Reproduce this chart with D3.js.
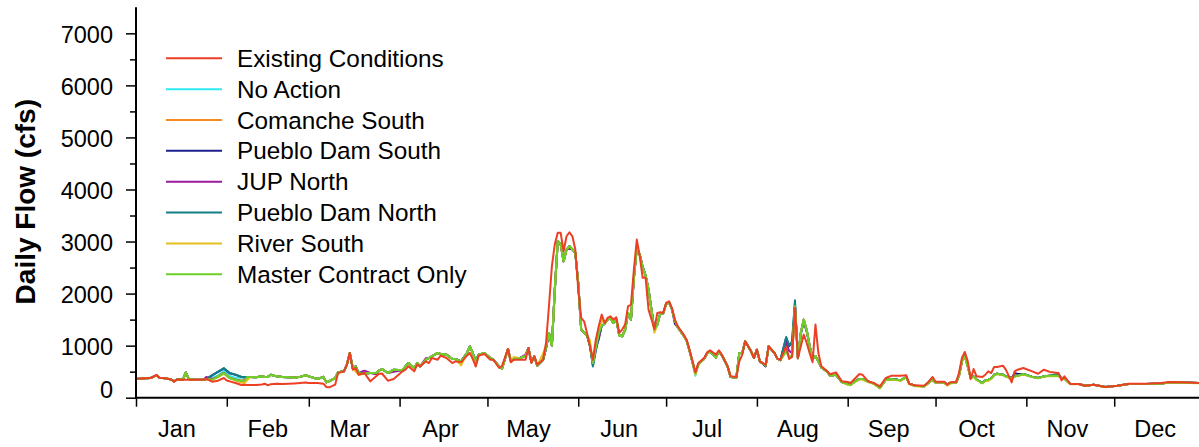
<!DOCTYPE html>
<html><head><meta charset="utf-8">
<script src="https://cdn.jsdelivr.net/npm/d3@7"></script>
<style>
body{margin:0;background:#fff}
svg{display:block}
text{font-family:"Liberation Sans",Arial,sans-serif;fill:#000}
</style>
</head><body>
<svg id="c" width="1199" height="447"></svg>
<script>
// ---- DATA ----
const days = [
 0,3,5,7,8,10,12,13,14,16,17,18,20,23,24,26,28,30,31,
 32,34,36,37,38,39,41,43,44,45,46,48,50,52,54,56,58,
 59,62,64,65,66,68,69,71,72,73,74,75,76,78,80,82,83,84,86,88,
 91,92,93,95,96,97,99,100,101,103,104,106,108,109,111,113,114,115,116,117,119,
 121,122,124,125,127,128,129,131,133,134,135,136,137,139,140,141,142,143,144,145,146,147,148,149,150,
 151,152,153,154,155,156,157,158,159,160,161,162,163,164,165,166,167,168,169,170,171,172,173,174,175,177,178,179,180,
 181,182,183,184,185,187,188,189,191,192,194,195,196,198,199,200,202,203,205,206,207,208,210,211,
 212,213,215,216,218,219,220,222,223,224,225,226,227,228,229,230,231,232,233,234,236,237,239,241,
 243,244,246,247,248,250,252,254,256,258,261,263,264,266,269,270,272,
 273,274,276,277,278,280,281,282,283,284,285,286,287,289,290,291,292,293,294,296,297,299,300,301,303,
 306,308,310,312,315,316,317,319,322,324,327,331,335,339,345,350,353,357,364
];

const existingConditions = [
 360,372,378,436,385,372,350,308,350,346,346,346,346,346,360,308,327,378,330,
 314,282,244,250,244,244,244,255,269,237,260,269,265,269,275,282,290,
 282,282,269,205,199,250,474,506,635,859,538,570,442,474,314,410,462,465,327,360,
 506,538,602,506,635,602,698,666,763,730,808,763,666,698,680,808,859,743,602,808,840,
 730,730,570,615,936,680,730,730,730,955,666,795,634,730,1051,1756,2525,2950,3167,3167,2814,3102,3179,3100,2846,
 2077,1532,1468,1244,987,730,1115,1372,1596,1436,1532,1564,1500,1545,1244,1308,1404,1756,1788,2462,3038,2718,2302,2302,1692,1320,1628,1640,1628,
 1821,1853,1720,1500,1372,1212,1115,923,487,666,763,871,910,827,910,827,602,410,397,698,827,1083,891,763,
 923,698,634,987,859,750,730,987,743,782,1724,763,987,1212,1051,859,680,1404,859,602,506,450,487,314,
 302,282,397,455,442,314,282,218,378,423,423,430,269,237,230,269,397,
 308,308,308,250,295,302,474,763,878,698,360,551,410,397,442,506,474,589,589,615,538,295,506,538,570,
 506,461,538,495,474,333,410,263,263,231,250,205,231,269,269,282,301,295,282
];

const noAction = [
 360,372,378,430,385,372,350,315,350,346,487,360,346,346,360,380,430,510,470,
 420,380,390,385,398,400,395,410,400,400,442,410,400,395,385,400,430,
 410,360,400,295,320,378,487,506,635,859,570,602,474,462,474,474,520,550,474,538,
 525,600,666,570,666,602,730,760,794,859,840,827,743,743,698,859,987,859,698,827,859,
 763,730,600,560,936,700,740,760,800,955,680,795,615,730,950,1244,1000,2077,3006,2950,2620,2846,2910,2850,2780,
 2200,1310,1250,1200,1000,666,1000,1250,1380,1420,1500,1520,1436,1500,1200,1180,1300,1628,1500,2300,2880,2750,2494,2350,2077,1308,1400,1620,1620,
 1800,1830,1700,1480,1350,1190,1100,900,420,640,750,850,890,770,890,820,600,400,390,859,860,1083,891,763,
 923,698,620,987,859,750,720,900,780,800,1750,760,1250,1500,1300,1000,750,800,700,580,500,423,440,300,
 260,250,330,360,360,310,270,186,346,360,334,397,269,230,218,260,346,
 290,300,290,250,282,290,420,700,800,602,380,410,350,282,330,346,370,440,460,442,410,378,410,423,455,
 400,378,410,420,423,378,370,263,263,231,250,205,231,265,265,275,290,290,280
];

const comancheSouth = [
 360,372,378,430,385,372,350,315,350,346,487,360,346,346,360,350,410,480,430,
 385,350,330,340,398,400,395,410,400,400,442,410,400,395,385,400,430,
 410,360,400,295,320,378,487,506,635,859,570,602,474,462,474,474,520,550,474,538,
 525,600,666,570,666,602,730,760,794,859,840,827,743,743,698,859,987,859,698,827,859,
 763,730,600,560,936,700,740,760,800,955,680,795,615,730,950,1244,1000,2077,3006,2950,2620,2846,2910,2850,2780,
 2200,1310,1250,1200,1000,666,987,1250,1380,1420,1500,1520,1436,1500,1200,1180,1300,1628,1500,2300,2880,2750,2494,2350,2077,1308,1400,1620,1620,
 1800,1830,1700,1480,1350,1190,1100,900,470,640,750,850,890,770,890,820,600,400,390,859,860,1083,891,763,
 923,698,620,987,859,750,720,900,780,800,1750,760,1250,1500,1300,1000,750,800,700,580,500,423,440,300,
 260,250,330,360,360,310,270,186,346,360,334,397,269,230,218,260,346,
 290,300,290,250,282,290,420,700,800,602,380,410,350,282,330,346,370,440,460,442,410,378,410,423,455,
 400,378,410,420,423,378,370,263,263,231,250,205,231,265,265,275,290,290,280
];

const puebloDamSouth = [
 360,372,378,430,385,372,350,315,350,346,487,360,346,346,360,430,495,560,515,
 470,440,400,395,398,400,395,410,400,400,442,410,400,395,385,400,430,
 410,360,400,295,320,378,487,506,635,859,570,602,474,462,474,474,520,550,474,538,
 525,600,666,570,666,602,730,760,794,859,840,827,743,743,698,859,987,859,698,827,859,
 763,730,600,560,936,700,740,760,800,955,680,795,615,730,950,1244,1000,2077,3006,2950,2620,2846,2910,2850,2780,
 2200,1310,1250,1200,1000,620,920,1150,1380,1420,1500,1520,1436,1500,1200,1180,1300,1628,1500,2300,2880,2750,2510,2350,2077,1308,1400,1620,1620,
 1800,1830,1700,1420,1350,1190,1100,900,470,640,750,850,890,770,890,820,600,400,390,859,860,1083,891,763,
 923,698,600,987,859,750,720,1150,990,1050,1800,760,1220,1460,1270,1000,750,800,700,580,500,423,440,300,
 260,250,330,360,360,310,270,186,346,360,334,397,269,230,218,260,346,
 290,300,290,250,282,290,420,700,800,602,380,410,350,282,330,346,370,440,460,442,410,378,470,460,455,
 400,378,410,420,423,378,370,263,263,231,250,205,231,265,265,275,290,290,280
];

const jupNorth = [
 360,372,378,430,385,372,350,315,350,346,487,360,346,346,398,360,400,474,420,
 378,346,320,330,398,400,395,410,400,400,442,410,400,395,385,400,430,
 410,360,400,295,320,378,487,506,635,859,570,560,474,520,474,450,520,550,474,500,
 525,600,666,570,666,602,760,760,794,859,840,827,743,743,698,859,987,859,698,827,859,
 763,730,600,560,936,700,740,760,830,955,680,795,615,730,950,1244,1000,2077,3006,2950,2620,2846,2860,2850,2780,
 2200,1310,1250,1200,1000,666,987,1115,1380,1420,1500,1520,1436,1500,1200,1180,1300,1628,1500,2300,2880,2750,2500,2350,2077,1308,1400,1620,1620,
 1800,1830,1700,1480,1350,1190,1100,900,470,640,750,850,890,770,890,820,600,400,390,859,860,1083,891,763,
 923,698,620,987,859,750,720,1051,900,860,1750,760,1250,1500,1300,1000,750,800,700,580,500,423,440,300,
 260,250,330,360,360,310,270,186,346,360,334,397,269,230,218,260,346,
 290,300,290,250,282,290,420,700,800,602,380,410,350,282,330,346,370,440,460,442,410,378,410,423,455,
 400,378,410,420,423,378,370,263,263,231,250,205,231,265,265,275,290,290,280
];

const puebloDamNorth = [
 360,372,378,430,385,372,350,315,350,346,487,360,346,346,360,436,500,570,520,
 474,442,400,398,398,400,395,410,400,400,442,410,400,395,385,400,430,
 410,360,400,295,320,378,487,506,635,859,570,602,474,462,474,474,520,550,474,538,
 525,600,666,570,666,602,730,760,794,859,840,827,743,743,698,859,987,859,698,827,859,
 763,730,600,560,936,700,740,760,800,955,680,795,615,730,950,1244,1000,2077,3006,2950,2620,2846,2910,2850,2780,
 2200,1310,1250,1200,1000,600,900,1180,1380,1420,1500,1520,1436,1500,1200,1180,1300,1628,1500,2300,2880,2750,2520,2350,2077,1308,1400,1620,1620,
 1800,1830,1700,1480,1350,1190,1100,900,470,640,750,850,890,770,890,820,600,400,390,859,860,1083,891,763,
 923,698,620,987,859,750,720,1167,1000,1083,1872,760,1250,1500,1300,1000,750,800,700,580,500,423,440,300,
 260,250,330,360,360,310,270,186,346,360,334,397,269,230,218,260,346,
 290,300,290,250,282,290,420,700,800,602,380,410,350,282,330,346,370,440,460,442,410,378,410,423,455,
 400,378,410,420,460,378,370,263,263,231,250,205,231,265,265,275,290,290,280
];

const riverSouth = [
 360,372,378,430,385,372,350,315,350,346,487,360,346,346,360,340,400,460,420,
 378,330,290,282,340,400,395,410,400,400,442,410,400,395,385,400,430,
 410,360,400,295,320,378,487,506,635,859,570,500,440,462,474,474,520,550,474,538,
 525,600,666,570,666,602,730,760,794,859,840,827,743,743,620,859,987,859,602,827,859,
 763,730,600,560,936,700,780,760,800,955,680,795,615,850,1000,1244,1000,2077,3006,2950,2620,2846,2910,2850,2780,
 2200,1310,1250,1200,1100,666,987,1250,1500,1420,1500,1520,1436,1500,1200,1180,1300,1628,1500,2300,2880,2750,2494,2350,2077,1250,1400,1620,1620,
 1800,1830,1700,1480,1350,1190,1100,900,440,640,750,850,890,770,890,820,600,400,390,859,860,1083,891,763,
 923,698,620,987,859,750,720,900,780,800,1750,760,1250,1500,1300,1000,750,800,700,580,500,423,440,300,
 250,240,320,350,350,300,260,180,340,350,325,390,262,222,210,252,340,
 285,295,285,230,275,285,410,690,790,590,370,400,340,275,322,320,360,430,450,435,400,370,400,415,445,
 395,372,405,412,418,375,365,260,260,228,247,202,228,262,262,272,287,287,277
];

const masterContractOnly = [
 360,372,378,430,385,372,350,315,350,346,487,360,346,346,360,346,400,474,420,
 378,346,320,330,398,400,395,410,400,400,442,410,400,395,385,400,430,
 410,360,400,295,320,378,487,506,635,859,570,602,474,462,474,474,520,550,474,538,
 525,600,666,570,666,602,730,760,794,859,840,827,743,743,698,859,987,859,698,827,859,
 763,730,600,560,936,700,740,760,800,955,680,795,615,730,950,1244,1000,2077,3006,2950,2620,2846,2910,2850,2780,
 2200,1310,1250,1200,1000,666,987,1250,1380,1420,1500,1520,1436,1500,1200,1180,1300,1628,1500,2300,2880,2750,2494,2350,2077,1308,1400,1620,1620,
 1800,1830,1700,1480,1350,1190,1100,900,470,640,750,850,890,770,890,820,600,400,390,859,860,1083,891,763,
 923,698,620,987,859,750,720,900,780,800,1750,760,1250,1500,1300,1000,750,800,700,580,500,423,440,300,
 260,250,330,360,360,310,270,186,346,360,334,397,269,230,218,260,346,
 290,300,290,250,282,290,420,700,800,602,380,410,350,282,330,346,370,440,460,442,410,378,410,423,455,
 400,378,410,420,423,378,370,263,263,231,250,205,231,265,265,275,290,290,280
];

const seriesNames = ["Existing Conditions","No Action","Comanche South","Pueblo Dam South","JUP North","Pueblo Dam North","River South","Master Contract Only"];
const seriesColors = ["#ec3f23","#2ee9f3","#f58a1f","#1c1f8c","#9b1aa0","#147f86","#e5c01c","#6ccf2a"];
const seriesValues = [existingConditions,noAction,comancheSouth,puebloDamSouth,jupNorth,puebloDamNorth,riverSouth,masterContractOnly];

const monthLabels = ["Jan","Feb","Mar","Apr","May","Jun","Jul","Aug","Sep","Oct","Nov","Dec"];
const monthStarts = [0,31,59,90,120,151,181,212,243,273,304,334];
const yMajorTicks = [0,1000,2000,3000,4000,5000,6000,7000];
const yMinorTicks = [500,1500,2500,3500,4500,5500,6500];
const yAxisTitle = "Daily Flow (cfs)";

seriesValues.forEach((s,i)=>{ if (s.length!==days.length) throw new Error(seriesNames[i]+" length "+s.length+" vs "+days.length); });

// ---- CHART ----
const svg = d3.select("#c");
const x = d3.scaleLinear().domain([0,365]).range([136,1205]);
const y = d3.scaleLinear().domain([0,7500]).range([397.7,7.3]);

const line = d3.line().x(d=>x(d[0])).y(d=>y(d[1]));
const drawOrder = [1,2,3,4,5,6,7,0];
const plot = svg.append("g");
drawOrder.forEach(i=>{
  plot.append("path")
    .datum(days.map((d,j)=>[d, seriesValues[i][j]]))
    .attr("fill","none").attr("stroke",seriesColors[i])
    .attr("stroke-width",2).attr("stroke-linejoin","round")
    .attr("d",line);
});

// Y axis
const yAx = svg.append("g").attr("transform","translate(136,0)")
  .call(d3.axisLeft(y).tickValues(yMajorTicks).tickFormat(d3.format("d")).tickSize(10).tickSizeOuter(0).tickPadding(13));
yAx.select(".domain").remove();
yAx.selectAll(".tick line").attr("stroke","#000").attr("stroke-width",1.5);
yAx.selectAll(".tick text").attr("font-size",23.5).attr("font-family",'"Liberation Sans",Arial,sans-serif')
  .attr("dy",d=> d===0 ? "0px" : "9px");
const yMin = svg.append("g").attr("transform","translate(136,0)")
  .call(d3.axisLeft(y).tickValues(yMinorTicks).tickSize(6).tickSizeOuter(0).tickFormat(""));
yMin.select(".domain").remove();
yMin.selectAll(".tick line").attr("stroke","#000").attr("stroke-width",1.5);
svg.append("line").attr("x1",136).attr("x2",136).attr("y1",y(7500)).attr("y2",y(0)+1)
  .attr("stroke","#000").attr("stroke-width",2);

// X axis
const xAx = svg.append("g").attr("transform",`translate(0,${y(0)})`)
  .call(d3.axisBottom(x).tickValues(monthStarts).tickSize(9).tickSizeOuter(0).tickFormat(""));
xAx.select(".domain").remove();
xAx.selectAll(".tick line").attr("stroke","#000").attr("stroke-width",1.5);
svg.append("line").attr("x1",135).attr("x2",1199).attr("y1",y(0)).attr("y2",y(0))
  .attr("stroke","#000").attr("stroke-width",2);
svg.append("g").selectAll("text").data(monthLabels).join("text")
  .attr("x",(d,i)=>x(monthStarts[i]+14)).attr("y",437)
  .attr("text-anchor","middle").attr("font-size",23.5).text(d=>d);

// Y title
svg.append("text").attr("transform","translate(35,201.7) rotate(-90)")
  .attr("text-anchor","middle").attr("font-size",28).attr("font-weight","bold").text(yAxisTitle);

// Legend
const lg = svg.append("g");
seriesNames.forEach((n,i)=>{
  const yy = 58.3 + i*30.85;
  lg.append("line").attr("x1",166).attr("x2",222).attr("y1",yy).attr("y2",yy)
    .attr("stroke",seriesColors[i]).attr("stroke-width",2);
  lg.append("text").attr("x",237).attr("y",yy+8.6).attr("font-size",24.3).text(n);
});
</script>
</body></html>
